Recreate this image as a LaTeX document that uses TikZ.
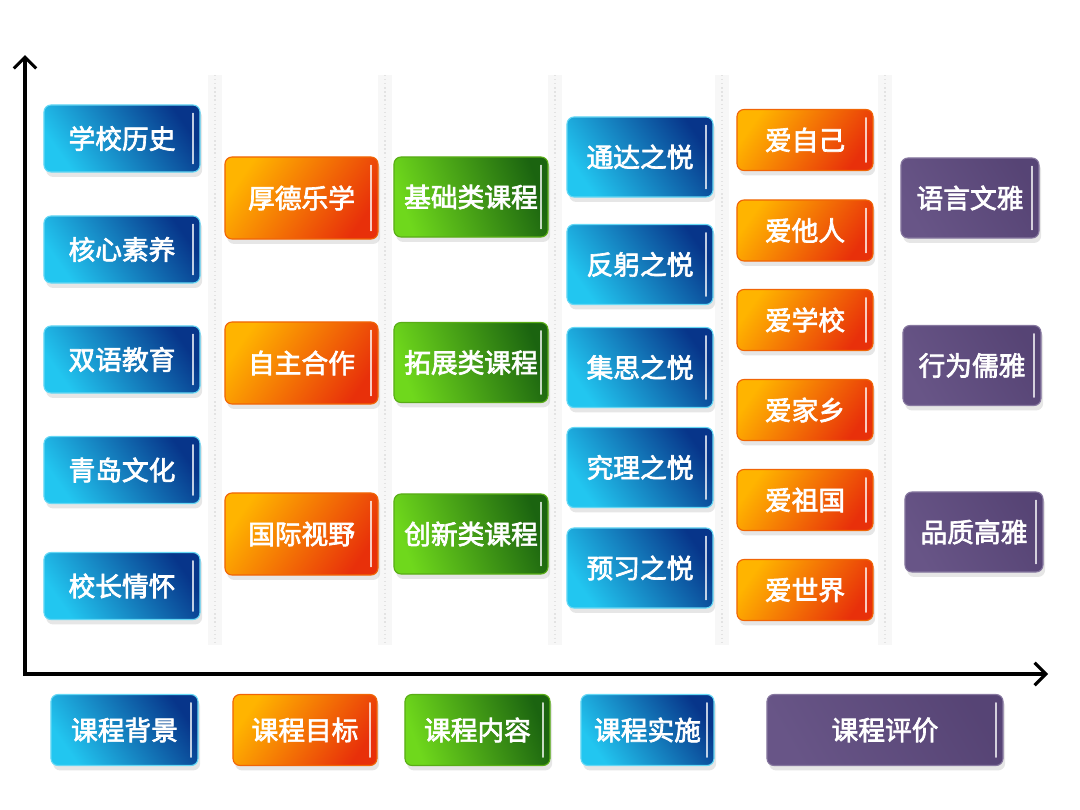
\documentclass[tikz,border=0pt]{standalone}
\usepackage{fontspec}
\newfontfamily\cjk[FakeBold=2.5]{Noto Sans CJK SC}
\usetikzlibrary{arrows.meta,shadows}

\definecolor{bluelt}{HTML}{22C6F0}
\definecolor{bluedk}{HTML}{07358A}
\definecolor{orglt}{HTML}{FFB400}
\definecolor{orgdk}{HTML}{E8300A}
\definecolor{grnlt}{HTML}{6FD81C}
\definecolor{grndk}{HTML}{1B6410}
\definecolor{purp}{HTML}{5E4A7F}

\tikzset{
  box/.style={rounded corners=5pt, text=white, inner sep=0pt,
    font=\cjk\fontsize{19}{22}\selectfont,
    drop shadow={opacity=.2,shadow xshift=1.5pt,shadow yshift=-3.5pt},
    path picture={\draw[white,opacity=.75,line width=1.1pt,line cap=round]
      ([xshift=-5pt,yshift=-6pt]path picture bounding box.north east) --
      ([xshift=-5pt,yshift=6pt]path picture bounding box.south east);}},
  bluebox/.style={box, draw=bluelt!70!white, line width=.8pt,
    left color=bluelt, right color=bluedk, shading angle=125},
  orgbox/.style={box, draw=orgdk!60!orglt, line width=.8pt,
    left color=orglt, right color=orgdk, shading angle=55},
  grnbox/.style={box, draw=grnlt!80!black, line width=.8pt,
    left color=grnlt, right color=grndk, shading angle=110},
  purbox/.style={box, draw=purp!75!white, line width=.8pt,
    left color=purp!94!white, right color=purp!92!black, shading angle=120},
  axis/.style={line width=2.2pt, {Straight Barb[length=8pt,width=16pt]}-{Straight Barb[length=8pt,width=16pt]}},
  sepband/.style={gray!6, line width=10pt},
  sepline/.style={gray!22, line width=.9pt, dotted}
}

\begin{document}
\begin{tikzpicture}[x=0.025cm,y=-0.025cm]
\useasboundingbox (0,0) rectangle (1080,810);
% column separators
\foreach \sx in {215,385,555,722,885}{
  \draw[sepband] (\sx,75) -- (\sx,645);
  \draw[sepline] (\sx,75) -- (\sx,645);
}
% axes
\coordinate (ytip) at (25,55);
\coordinate (xtip) at (1048,674);
\draw[axis] (ytip) |- (xtip);

% background
\node[bluebox,minimum width=3.9cm,minimum height=1.675cm] (hist) at (122,138.5) {学校历史};
\node[bluebox,minimum width=3.9cm,minimum height=1.675cm] (core) at (122,249.5) {核心素养};
\node[bluebox,minimum width=3.9cm,minimum height=1.675cm] (bili) at (122,359.5) {双语教育};
\node[bluebox,minimum width=3.9cm,minimum height=1.675cm] (qdwh) at (122,470) {青岛文化};
\node[bluebox,minimum width=3.9cm,minimum height=1.675cm] (xzqh) at (122,586) {校长情怀};
% goals
\node[orgbox,minimum width=3.825cm,minimum height=2.05cm] (hdlx) at (301.5,198) {厚德乐学};
\node[orgbox,minimum width=3.825cm,minimum height=2.05cm] (zzhz) at (301.5,363) {自主合作};
\node[orgbox,minimum width=3.825cm,minimum height=2.05cm] (gjsy) at (301.5,534) {国际视野};
% content
\node[grnbox,minimum width=3.85cm,minimum height=2.0cm] (jclk) at (471,197) {基础类课程};
\node[grnbox,minimum width=3.85cm,minimum height=2.0cm] (tzlk) at (471,362.5) {拓展类课程};
\node[grnbox,minimum width=3.85cm,minimum height=2.0cm] (cxlk) at (471,534) {创新类课程};
% implementation
\node[bluebox,minimum width=3.65cm,minimum height=2.0cm] (tdzy) at (640,157) {通达之悦};
\node[bluebox,minimum width=3.65cm,minimum height=2.0cm] (fgzy) at (640,264.5) {反躬之悦};
\node[bluebox,minimum width=3.65cm,minimum height=2.0cm] (jszy) at (640,367.5) {集思之悦};
\node[bluebox,minimum width=3.65cm,minimum height=2.0cm] (jlzy) at (640,467.5) {究理之悦};
\node[bluebox,minimum width=3.65cm,minimum height=2.0cm] (yxzy) at (640,568) {预习之悦};
% love
\node[orgbox,minimum width=3.4cm,minimum height=1.525cm] (azj) at (805,140) {爱自己};
\node[orgbox,minimum width=3.4cm,minimum height=1.525cm] (atr) at (805,230.5) {爱他人};
\node[orgbox,minimum width=3.4cm,minimum height=1.525cm] (axx) at (805,320) {爱学校};
\node[orgbox,minimum width=3.4cm,minimum height=1.525cm] (ajx) at (805,410) {爱家乡};
\node[orgbox,minimum width=3.4cm,minimum height=1.525cm] (azg) at (805,500) {爱祖国};
\node[orgbox,minimum width=3.4cm,minimum height=1.525cm] (asj) at (805,590) {爱世界};
% evaluation
\node[purbox,minimum width=3.45cm,minimum height=2.0cm] (yywy) at (970,198) {语言文雅};
\node[purbox,minimum width=3.45cm,minimum height=2.0cm] (xwry) at (972,365.5) {行为儒雅};
\node[purbox,minimum width=3.45cm,minimum height=2.0cm] (pzgy) at (974,532) {品质高雅};

% bottom row
\node[bluebox,minimum width=3.675cm,minimum height=1.775cm] (bj) at (124.5,730) {课程背景};
\node[orgbox,minimum width=3.6cm,minimum height=1.775cm] (mb) at (305,730) {课程目标};
\node[grnbox,minimum width=3.625cm,minimum height=1.775cm] (nr) at (477.5,730) {课程内容};
\node[bluebox,minimum width=3.325cm,minimum height=1.775cm] (ss) at (647.5,730) {课程实施};
\node[purbox,minimum width=5.9cm,minimum height=1.775cm] (pj) at (885,730) {课程评价};
\end{tikzpicture}
\end{document}
